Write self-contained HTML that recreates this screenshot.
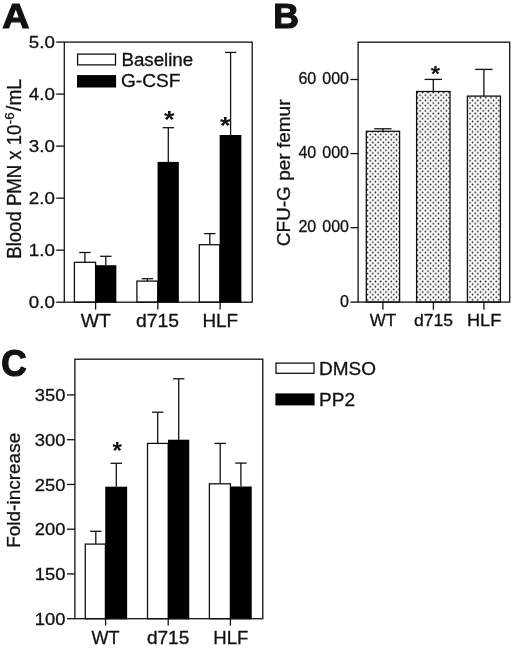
<!DOCTYPE html>
<html lang="en">
<head>
<meta charset="utf-8">
<title>Figure</title>
<style>
html,body{margin:0;padding:0;background:#fff;}
body{width:520px;height:648px;overflow:hidden;}
svg{display:block;font-family:"Liberation Sans",Arial,Helvetica,sans-serif;fill:#111;filter:blur(0.4px);}
text{stroke:#111;stroke-width:0.3px;}
</style>
</head>
<body>
<svg width="520" height="648" viewBox="0 0 520 648">
<defs>
<pattern id="dots" x="-1.2" y="-0.65" width="5.25" height="5.25" patternUnits="userSpaceOnUse">
<rect width="5.25" height="5.25" fill="#fafafa"/>
<circle cx="1.3" cy="1.3" r="0.8" fill="#000"/>
<circle cx="3.925" cy="3.925" r="0.8" fill="#000"/>
</pattern>
</defs>
<rect width="520" height="648" fill="#fff"/>
<line x1="84.90" y1="252.50" x2="84.90" y2="262.30" stroke="#111" stroke-width="1.3"/>
<line x1="79.20" y1="252.50" x2="90.60" y2="252.50" stroke="#111" stroke-width="1.3"/>
<rect x="74.40" y="262.30" width="21.20" height="39.90" fill="#fff" stroke="#111" stroke-width="1.3"/>
<line x1="105.80" y1="256.30" x2="105.80" y2="265.20" stroke="#111" stroke-width="1.3"/>
<line x1="100.10" y1="256.30" x2="111.50" y2="256.30" stroke="#111" stroke-width="1.3"/>
<rect x="95.45" y="265.20" width="20.90" height="37.65" fill="#000"/>
<line x1="147.40" y1="278.70" x2="147.40" y2="281.10" stroke="#111" stroke-width="1.3"/>
<line x1="141.70" y1="278.70" x2="153.10" y2="278.70" stroke="#111" stroke-width="1.3"/>
<rect x="136.90" y="281.10" width="20.80" height="21.10" fill="#fff" stroke="#111" stroke-width="1.3"/>
<line x1="168.30" y1="127.70" x2="168.30" y2="161.90" stroke="#111" stroke-width="1.3"/>
<line x1="162.60" y1="127.70" x2="174.00" y2="127.70" stroke="#111" stroke-width="1.3"/>
<rect x="157.55" y="161.90" width="21.30" height="140.95" fill="#000"/>
<line x1="209.80" y1="233.60" x2="209.80" y2="244.70" stroke="#111" stroke-width="1.3"/>
<line x1="204.10" y1="233.60" x2="215.50" y2="233.60" stroke="#111" stroke-width="1.3"/>
<rect x="199.30" y="244.70" width="20.50" height="57.50" fill="#fff" stroke="#111" stroke-width="1.3"/>
<line x1="230.60" y1="52.40" x2="230.60" y2="135.00" stroke="#111" stroke-width="1.3"/>
<line x1="224.90" y1="52.40" x2="236.30" y2="52.40" stroke="#111" stroke-width="1.3"/>
<rect x="219.65" y="135.00" width="21.70" height="167.85" fill="#000"/>
<rect x="64.30" y="42.10" width="187.90" height="260.10" fill="none" stroke="#111" stroke-width="1.3"/>
<line x1="56.20" y1="302.20" x2="64.30" y2="302.20" stroke="#111" stroke-width="1.3"/>
<text x="54.80" y="308.00" font-size="17" text-anchor="end" font-weight="normal" transform="translate(54.80 308.00) scale(1.1 1) translate(-54.80 -308.00)">0.0</text>
<line x1="56.20" y1="250.18" x2="64.30" y2="250.18" stroke="#111" stroke-width="1.3"/>
<text x="54.80" y="255.98" font-size="17" text-anchor="end" font-weight="normal" transform="translate(54.80 255.98) scale(1.1 1) translate(-54.80 -255.98)">1.0</text>
<line x1="56.20" y1="198.16" x2="64.30" y2="198.16" stroke="#111" stroke-width="1.3"/>
<text x="54.80" y="203.96" font-size="17" text-anchor="end" font-weight="normal" transform="translate(54.80 203.96) scale(1.1 1) translate(-54.80 -203.96)">2.0</text>
<line x1="56.20" y1="146.14" x2="64.30" y2="146.14" stroke="#111" stroke-width="1.3"/>
<text x="54.80" y="151.94" font-size="17" text-anchor="end" font-weight="normal" transform="translate(54.80 151.94) scale(1.1 1) translate(-54.80 -151.94)">3.0</text>
<line x1="56.20" y1="94.12" x2="64.30" y2="94.12" stroke="#111" stroke-width="1.3"/>
<text x="54.80" y="99.92" font-size="17" text-anchor="end" font-weight="normal" transform="translate(54.80 99.92) scale(1.1 1) translate(-54.80 -99.92)">4.0</text>
<line x1="56.20" y1="42.10" x2="64.30" y2="42.10" stroke="#111" stroke-width="1.3"/>
<text x="54.80" y="47.90" font-size="17" text-anchor="end" font-weight="normal" transform="translate(54.80 47.90) scale(1.1 1) translate(-54.80 -47.90)">5.0</text>
<line x1="95.60" y1="302.20" x2="95.60" y2="309.60" stroke="#111" stroke-width="1.3"/>
<line x1="157.80" y1="302.20" x2="157.80" y2="309.60" stroke="#111" stroke-width="1.3"/>
<line x1="220.10" y1="302.20" x2="220.10" y2="309.60" stroke="#111" stroke-width="1.3"/>
<text x="95.80" y="327.10" font-size="18" text-anchor="middle" font-weight="normal" transform="translate(95.80 327.10) scale(1.07 1) translate(-95.80 -327.10)">WT</text>
<text x="157.50" y="327.10" font-size="18" text-anchor="middle" font-weight="normal" transform="translate(157.50 327.10) scale(1.075 1) translate(-157.50 -327.10)">d715</text>
<text x="220.30" y="327.10" font-size="18" text-anchor="middle" font-weight="normal" transform="translate(220.30 327.10) scale(1.05 1) translate(-220.30 -327.10)">HLF</text>
<rect x="77.60" y="54.10" width="37.90" height="10.80" fill="#fff" stroke="#111" stroke-width="1.3"/>
<rect x="77" y="75.1" width="39.1" height="12.4" fill="#000"/>
<text x="121.40" y="66.00" font-size="18" text-anchor="start" font-weight="normal" transform="translate(121.40 66.00) scale(1.04 1) translate(-121.40 -66.00)">Baseline</text>
<text x="120.90" y="87.00" font-size="18" text-anchor="start" font-weight="normal" transform="translate(120.90 87.00) scale(1.065 1) translate(-120.90 -87.00)">G-CSF</text>
<text x="169.30" y="127.90" font-size="23.5" text-anchor="middle" font-weight="bold" transform="translate(169.30 127.90) scale(1.15 1) translate(-169.30 -127.90)" style="stroke-width:0">*</text>
<text x="225.20" y="134.20" font-size="23.5" text-anchor="middle" font-weight="bold" transform="translate(225.20 134.20) scale(1.15 1) translate(-225.20 -134.20)" style="stroke-width:0">*</text>
<text transform="translate(21.40 258.70) rotate(-90) scale(0.952 1)" font-size="19.5" text-anchor="start">Blood PMN x 10</text>
<text transform="translate(13.60 124.30) rotate(-90) scale(1.05 1)" font-size="12.8" text-anchor="start">-6</text>
<text transform="translate(21.40 110.90) rotate(-90) scale(0.98 1)" font-size="19.5" text-anchor="start">/mL</text>
<text x="2.30" y="28.20" font-size="35.5" text-anchor="start" font-weight="bold" transform="translate(2.30 28.20) scale(1.06 1) translate(-2.30 -28.20)" style="stroke-width:1.2px;stroke-linejoin:miter">A</text>
<line x1="382.90" y1="128.80" x2="382.90" y2="131.30" stroke="#111" stroke-width="1.3"/>
<line x1="374.20" y1="128.80" x2="391.60" y2="128.80" stroke="#111" stroke-width="1.3"/>
<rect x="366.30" y="131.30" width="33.30" height="170.80" fill="url(#dots)" stroke="#111" stroke-width="1.3"/>
<line x1="433.30" y1="79.40" x2="433.30" y2="91.50" stroke="#111" stroke-width="1.3"/>
<line x1="424.60" y1="79.40" x2="442.00" y2="79.40" stroke="#111" stroke-width="1.3"/>
<rect x="416.60" y="91.50" width="33.40" height="210.60" fill="url(#dots)" stroke="#111" stroke-width="1.3"/>
<line x1="483.90" y1="69.40" x2="483.90" y2="96.10" stroke="#111" stroke-width="1.3"/>
<line x1="475.20" y1="69.40" x2="492.60" y2="69.40" stroke="#111" stroke-width="1.3"/>
<rect x="467.40" y="96.10" width="33.00" height="206.00" fill="url(#dots)" stroke="#111" stroke-width="1.3"/>
<rect x="358.10" y="42.20" width="151.60" height="259.90" fill="none" stroke="#111" stroke-width="1.3"/>
<line x1="350.40" y1="302.10" x2="358.10" y2="302.10" stroke="#111" stroke-width="1.3"/>
<text x="349.00" y="306.50" font-size="16" text-anchor="end" font-weight="normal" word-spacing="1.6">0</text>
<line x1="350.40" y1="227.70" x2="358.10" y2="227.70" stroke="#111" stroke-width="1.3"/>
<text x="349.00" y="232.10" font-size="16" text-anchor="end" font-weight="normal" word-spacing="1.6">20 000</text>
<line x1="350.40" y1="153.60" x2="358.10" y2="153.60" stroke="#111" stroke-width="1.3"/>
<text x="349.00" y="158.00" font-size="16" text-anchor="end" font-weight="normal" word-spacing="1.6">40 000</text>
<line x1="350.40" y1="79.50" x2="358.10" y2="79.50" stroke="#111" stroke-width="1.3"/>
<text x="349.00" y="83.90" font-size="16" text-anchor="end" font-weight="normal" word-spacing="1.6">60 000</text>
<line x1="382.90" y1="302.10" x2="382.90" y2="309.80" stroke="#111" stroke-width="1.3"/>
<line x1="433.40" y1="302.10" x2="433.40" y2="309.80" stroke="#111" stroke-width="1.3"/>
<line x1="483.90" y1="302.10" x2="483.90" y2="309.80" stroke="#111" stroke-width="1.3"/>
<text x="382.90" y="326.30" font-size="17" text-anchor="middle" font-weight="normal">WT</text>
<text x="433.50" y="326.30" font-size="17" text-anchor="middle" font-weight="normal" transform="translate(433.50 326.30) scale(1.035 1) translate(-433.50 -326.30)">d715</text>
<text x="484.10" y="326.30" font-size="17" text-anchor="middle" font-weight="normal" transform="translate(484.10 326.30) scale(1.07 1) translate(-484.10 -326.30)">HLF</text>
<text x="435.40" y="81.30" font-size="21.5" text-anchor="middle" font-weight="bold" transform="translate(435.40 81.30) scale(1.12 1) translate(-435.40 -81.30)" style="stroke-width:0">*</text>
<text transform="translate(289.80 172.90) rotate(-90) scale(1.0 1)" font-size="19" text-anchor="middle">CFU-G per femur</text>
<text x="273.20" y="28.20" font-size="35.5" text-anchor="start" font-weight="bold" style="stroke-width:1.2px;stroke-linejoin:miter">B</text>
<line x1="95.80" y1="531.30" x2="95.80" y2="544.10" stroke="#111" stroke-width="1.3"/>
<line x1="90.10" y1="531.30" x2="101.50" y2="531.30" stroke="#111" stroke-width="1.3"/>
<rect x="85.30" y="544.10" width="20.10" height="74.60" fill="#fff" stroke="#111" stroke-width="1.3"/>
<line x1="116.30" y1="463.30" x2="116.30" y2="486.70" stroke="#111" stroke-width="1.3"/>
<line x1="110.60" y1="463.30" x2="122.00" y2="463.30" stroke="#111" stroke-width="1.3"/>
<rect x="105.25" y="486.70" width="21.90" height="132.65" fill="#000"/>
<line x1="157.70" y1="412.20" x2="157.70" y2="443.40" stroke="#111" stroke-width="1.3"/>
<line x1="152.00" y1="412.20" x2="163.40" y2="412.20" stroke="#111" stroke-width="1.3"/>
<rect x="147.50" y="443.40" width="20.70" height="175.30" fill="#fff" stroke="#111" stroke-width="1.3"/>
<line x1="178.70" y1="378.80" x2="178.70" y2="439.70" stroke="#111" stroke-width="1.3"/>
<line x1="173.00" y1="378.80" x2="184.40" y2="378.80" stroke="#111" stroke-width="1.3"/>
<rect x="168.05" y="439.70" width="21.20" height="179.65" fill="#000"/>
<line x1="220.20" y1="443.40" x2="220.20" y2="483.80" stroke="#111" stroke-width="1.3"/>
<line x1="214.50" y1="443.40" x2="225.90" y2="443.40" stroke="#111" stroke-width="1.3"/>
<rect x="209.40" y="483.80" width="21.00" height="134.90" fill="#fff" stroke="#111" stroke-width="1.3"/>
<line x1="240.90" y1="463.10" x2="240.90" y2="486.50" stroke="#111" stroke-width="1.3"/>
<line x1="235.20" y1="463.10" x2="246.60" y2="463.10" stroke="#111" stroke-width="1.3"/>
<rect x="230.25" y="486.50" width="21.50" height="132.85" fill="#000"/>
<rect x="74.90" y="359.20" width="187.90" height="259.50" fill="none" stroke="#111" stroke-width="1.3"/>
<line x1="67.00" y1="618.70" x2="74.90" y2="618.70" stroke="#111" stroke-width="1.3"/>
<text x="65.40" y="624.80" font-size="17" text-anchor="end" font-weight="normal" transform="translate(65.40 624.80) scale(1.08 1) translate(-65.40 -624.80)">100</text>
<line x1="67.00" y1="573.95" x2="74.90" y2="573.95" stroke="#111" stroke-width="1.3"/>
<text x="65.40" y="580.05" font-size="17" text-anchor="end" font-weight="normal" transform="translate(65.40 580.05) scale(1.08 1) translate(-65.40 -580.05)">150</text>
<line x1="67.00" y1="529.20" x2="74.90" y2="529.20" stroke="#111" stroke-width="1.3"/>
<text x="65.40" y="535.30" font-size="17" text-anchor="end" font-weight="normal" transform="translate(65.40 535.30) scale(1.08 1) translate(-65.40 -535.30)">200</text>
<line x1="67.00" y1="484.45" x2="74.90" y2="484.45" stroke="#111" stroke-width="1.3"/>
<text x="65.40" y="490.55" font-size="17" text-anchor="end" font-weight="normal" transform="translate(65.40 490.55) scale(1.08 1) translate(-65.40 -490.55)">250</text>
<line x1="67.00" y1="439.70" x2="74.90" y2="439.70" stroke="#111" stroke-width="1.3"/>
<text x="65.40" y="445.80" font-size="17" text-anchor="end" font-weight="normal" transform="translate(65.40 445.80) scale(1.08 1) translate(-65.40 -445.80)">300</text>
<line x1="67.00" y1="394.95" x2="74.90" y2="394.95" stroke="#111" stroke-width="1.3"/>
<text x="65.40" y="401.05" font-size="17" text-anchor="end" font-weight="normal" transform="translate(65.40 401.05) scale(1.08 1) translate(-65.40 -401.05)">350</text>
<line x1="105.60" y1="618.70" x2="105.60" y2="625.60" stroke="#111" stroke-width="1.3"/>
<line x1="168.20" y1="618.70" x2="168.20" y2="625.60" stroke="#111" stroke-width="1.3"/>
<line x1="230.40" y1="618.70" x2="230.40" y2="625.60" stroke="#111" stroke-width="1.3"/>
<text x="105.40" y="644.00" font-size="18" text-anchor="middle" font-weight="normal">WT</text>
<text x="168.10" y="644.00" font-size="18" text-anchor="middle" font-weight="normal" transform="translate(168.10 644.00) scale(1.06 1) translate(-168.10 -644.00)">d715</text>
<text x="230.80" y="644.00" font-size="18" text-anchor="middle" font-weight="normal" transform="translate(230.80 644.00) scale(1.03 1) translate(-230.80 -644.00)">HLF</text>
<text x="117.30" y="458.80" font-size="23.5" text-anchor="middle" font-weight="bold" transform="translate(117.30 458.80) scale(1.03 1) translate(-117.30 -458.80)" style="stroke-width:0">*</text>
<text transform="translate(20.30 490.30) rotate(-90) scale(1.0 1)" font-size="19" text-anchor="middle">Fold-increase</text>
<text x="1.20" y="375.90" font-size="37.5" text-anchor="start" font-weight="bold" transform="translate(1.20 375.90) scale(0.94 1) translate(-1.20 -375.90)" style="stroke-width:1.2px;stroke-linejoin:miter">C</text>
<rect x="276.00" y="363.10" width="38.00" height="10.20" fill="#fff" stroke="#111" stroke-width="1.3"/>
<rect x="275.4" y="393.4" width="39.2" height="12" fill="#000"/>
<text x="319.00" y="374.90" font-size="17.5" text-anchor="start" font-weight="normal" transform="translate(319.00 374.90) scale(1.085 1) translate(-319.00 -374.90)">DMSO</text>
<text x="319.00" y="406.10" font-size="17.5" text-anchor="start" font-weight="normal" transform="translate(319.00 406.10) scale(1.09 1) translate(-319.00 -406.10)">PP2</text>
</svg>
</body>
</html>
